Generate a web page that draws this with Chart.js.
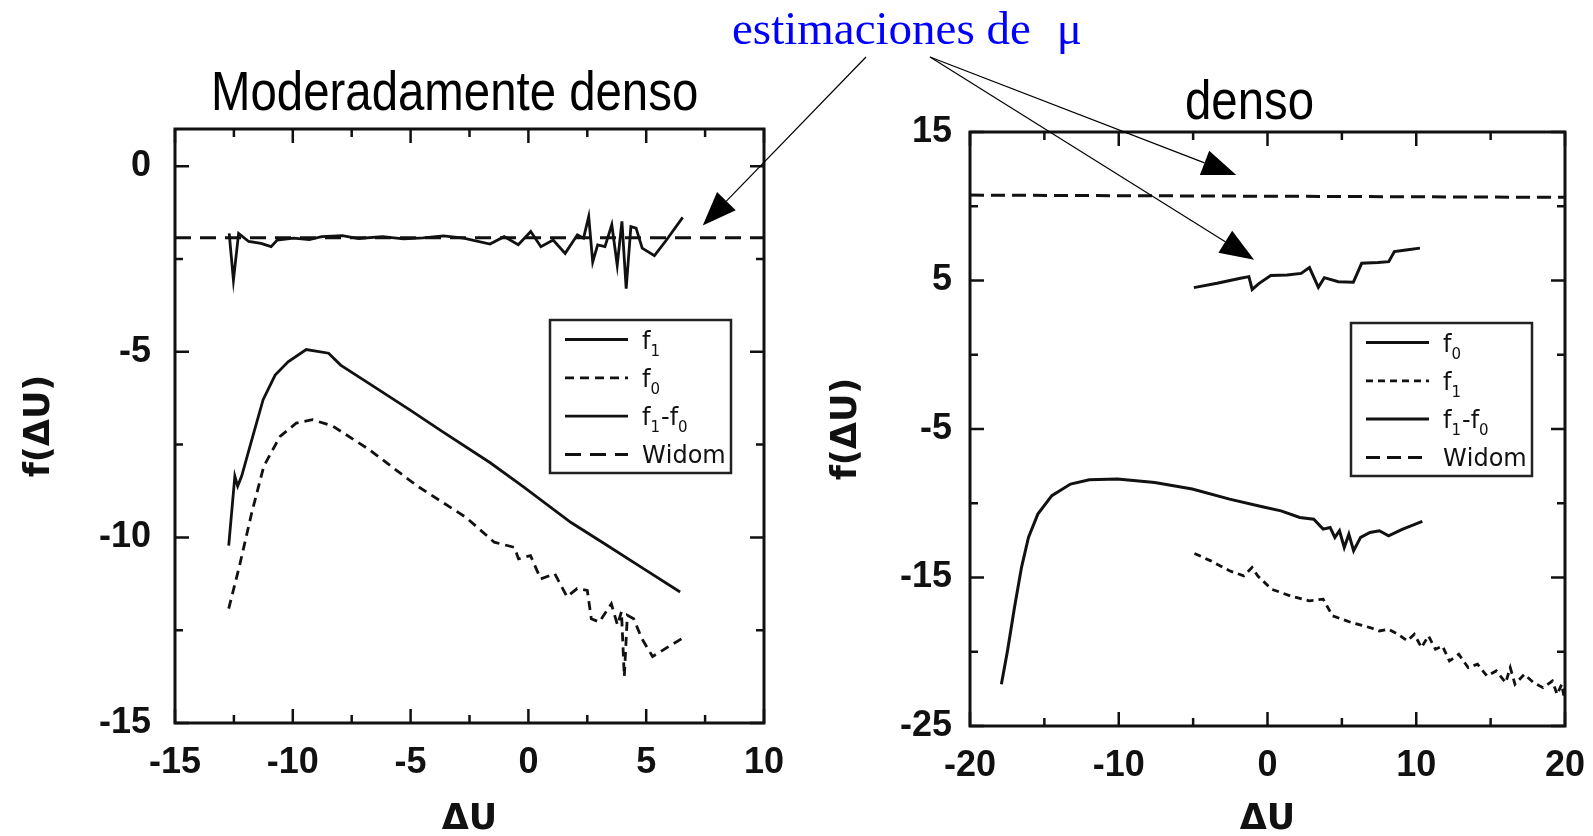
<!DOCTYPE html>
<html>
<head>
<meta charset="utf-8">
<script src="https://cdn.jsdelivr.net/npm/chart.js@4.4.0/dist/chart.umd.min.js"></script>
<style>
  html, body { margin: 0; padding: 0; background: #fff; overflow: hidden; }
  body { width: 1593px; height: 836px; position: relative; }
  canvas { position: absolute; top: 0; }
  #left { left: 0; }
  #right { left: 800px; }
  #arrows { left: 0; pointer-events: none; }
  .ttl { position: absolute; font-family: "Liberation Sans", Arial, sans-serif; font-size: 56px; line-height: 1;
         white-space: nowrap; transform-origin: 0 0; transform: scaleX(0.846); color: #000; }
  #note { position: absolute; left: 732px; top: 5px; font-family: "Liberation Serif", serif; font-size: 47px;
          line-height: 1; color: #0000ff; white-space: nowrap; }
  #note span { margin-left: 14px; }
</style>
</head>
<body>
<canvas id="left" width="800" height="836"></canvas>
<canvas id="right" width="793" height="836"></canvas>
<canvas id="arrows" width="1593" height="836"></canvas>
<div class="ttl" style="left:211px;top:63px">Moderadamente denso</div>
<div class="ttl" style="left:1185px;top:72px">denso</div>
<div id="note">estimaciones de <span>μ</span></div>

<script>
// ---- moderadamente denso ----
const modXTicks = [-15, -10, -5, 0, 5, 10];
const modYTicks = [-15, -10, -5, 0];

const modF1X = [-12.72, -12.46, -12.34, -12.17, -11.78, -11.26, -10.75, -10.2, -9.43, -8.48, -7.97, -6.77, -5.05, -3.68, -1.62, -0.25, 1.81, 3.35, 4.9, 6.44];
const modF1Y = [-10.22, -8.35, -8.62, -8.35, -7.46, -6.29, -5.63, -5.27, -4.94, -5.04, -5.36, -5.85, -6.56, -7.14, -7.99, -8.62, -9.6, -10.22, -10.85, -11.47];

const modF0X = [-12.72, -12.26, -11.74, -11.23, -10.54, -9.85, -9.17, -8.31, -6.77, -4.71, -2.65, -1.45, -0.59, -0.42, 0.09, 0.52, 1.12, 1.64, 2.07, 2.5, 2.67, 3.01, 3.52, 3.78, 3.95, 4.07, 4.2, 4.47, 4.81, 5.27, 5.93, 6.53];
const modF0Y = [-11.92, -10.76, -9.33, -8.08, -7.28, -6.92, -6.83, -7.0, -7.63, -8.62, -9.46, -10.13, -10.27, -10.58, -10.49, -11.12, -10.98, -11.6, -11.38, -11.43, -12.19, -12.28, -11.79, -12.36, -12.0, -13.75, -12.1, -12.19, -12.72, -13.21, -12.95, -12.72];

const modDiffX = [-12.7, -12.52, -12.3, -11.87, -11.35, -10.92, -10.66, -9.97, -9.3, -8.77, -7.9, -7.2, -6.19, -5.3, -4.47, -3.6, -2.75, -1.63, -1.03, -0.43, 0.1, 0.53, 1.05, 1.56, 2.08, 2.34, 2.56, 2.73, 2.94, 3.25, 3.54, 3.77, 3.97, 4.15, 4.35, 4.57, 4.83, 5.35, 5.86, 6.55];
const modDiffY = [-1.81, -3.07, -1.81, -2.03, -2.08, -2.17, -1.99, -1.94, -1.98, -1.9, -1.87, -1.95, -1.9, -1.96, -1.93, -1.88, -1.94, -2.1, -1.9, -2.12, -1.76, -2.17, -1.99, -2.35, -1.85, -1.94, -1.36, -2.58, -2.12, -2.17, -1.58, -2.67, -1.49, -3.3, -1.63, -1.67, -2.21, -2.41, -1.99, -1.38];

const modWidomX = [-15, 10];
const modWidomY = [-1.93, -1.93];

// ---- denso ----
const denXTicks = [-20, -10, 0, 10, 20];
const denYTicks = [-25, -15, -5, 5, 15];

const denF0X = [-17.89, -17.48, -17.01, -16.54, -16.07, -15.44, -14.5, -13.24, -11.98, -10.09, -7.58, -5.06, -2.55, -0.35, 0.91, 2.17, 3.11, 3.74, 4.21, 4.53, 4.84, 5.16, 5.47, 5.79, 6.26, 6.89, 7.52, 8.14, 9.09, 10.41];
const denF0Y = [-22.19, -19.94, -17.02, -14.33, -12.3, -10.73, -9.49, -8.71, -8.42, -8.37, -8.6, -9.04, -9.72, -10.24, -10.51, -10.96, -11.07, -11.74, -11.63, -12.3, -11.85, -12.98, -12.08, -13.2, -12.3, -11.97, -11.85, -12.19, -11.74, -11.22];

const denF1X = [-4.91, -3.81, -2.55, -1.6, -1.04, -0.66, 0.28, 1.54, 2.8, 3.74, 4.37, 5.63, 6.89, 7.52, 8.14, 8.77, 9.4, 9.87, 10.35, 10.82, 11.29, 11.76, 12.23, 12.86, 13.49, 14.12, 14.75, 15.38, 16.01, 16.32, 16.64, 17.26, 17.89, 18.52, 19.15, 19.47, 19.78, 19.94];
const denF1Y = [-13.38, -13.88, -14.55, -14.89, -14.33, -14.89, -15.79, -16.24, -16.57, -16.46, -17.58, -18.03, -18.37, -18.6, -18.48, -18.82, -19.27, -18.82, -19.72, -18.93, -19.83, -19.61, -20.62, -20.17, -21.07, -20.84, -21.63, -21.29, -22.08, -21.07, -22.19, -21.52, -22.08, -22.42, -21.97, -22.87, -22.19, -23.09];

const denDiffX = [-4.95, -3.39, -1.82, -1.25, -1.03, -0.56, 0.22, 1.32, 2.26, 2.82, 3.42, 3.82, 4.76, 5.77, 6.33, 7.43, 8.15, 8.53, 9.31, 10.25];
const denDiffY = [4.52, 4.81, 5.15, 5.26, 4.4, 4.81, 5.33, 5.37, 5.48, 5.87, 4.54, 5.19, 4.92, 4.88, 6.16, 6.21, 6.27, 6.95, 7.06, 7.18];

const denWidomX = [-20, 20];
const denWidomY = [10.75, 10.6];

// arrow targets (data coords) for "estimaciones de mu"
const modArrowTargets = [[7.4, -1.6]];
const denArrowTargets = [[-2.1, 12.1], [-0.9, 6.4]];

const ink = '#111';
const tickFont = { family: 'Liberation Sans', size: 36, weight: 'bold' };
const titleFont = { family: 'DejaVu Sans', size: 35, weight: 'bold', lineHeight: 1 };

function pts(xs, ys) {
    return xs.map((x, i) => ({ x: x, y: ys[i] }));
}

// frame with inward ticks on all four sides
const framePlugin = {
    id: 'frame',
    afterDatasetsDraw(chart, args, opts) {
        const { ctx, chartArea: a, scales: { x, y } } = chart;
        ctx.save();
        ctx.strokeStyle = ink;
        ctx.lineWidth = 3;
        ctx.strokeRect(a.left, a.top, a.right - a.left, a.bottom - a.top);
        ctx.lineWidth = 2.5;
        const mids = v => v.slice(1).map((t, i) => (t + v[i]) / 2);
        const xTick = (val, len) => {
            const px = x.getPixelForValue(val);
            if (px < a.left || px > a.right) return;
            ctx.beginPath();
            ctx.moveTo(px, a.bottom); ctx.lineTo(px, a.bottom - len);
            ctx.moveTo(px, a.top); ctx.lineTo(px, a.top + len);
            ctx.stroke();
        };
        const yTick = (val, len) => {
            const py = y.getPixelForValue(val);
            if (py < a.top || py > a.bottom) return;
            ctx.beginPath();
            ctx.moveTo(a.left, py); ctx.lineTo(a.left + len, py);
            ctx.moveTo(a.right, py); ctx.lineTo(a.right - len, py);
            ctx.stroke();
        };
        opts.xMajor.forEach(v => xTick(v, 14));
        mids(opts.xMajor).forEach(v => xTick(v, 8));
        opts.yMajor.forEach(v => yTick(v, 14));
        mids(opts.yMajor).forEach(v => yTick(v, 8));
        ctx.restore();
    }
};

// boxed legend inside the plot, entries written with subscripts ("f_1")
function drawSubText(ctx, text, x, y) {
    let i = 0;
    while (i < text.length) {
        if (text[i] === '_') {
            ctx.font = '15px "DejaVu Sans"';
            ctx.fillText(text[i + 1], x, y + 7);
            x += ctx.measureText(text[i + 1]).width + 1;
            i += 2;
        } else {
            ctx.font = '24px "DejaVu Sans"';
            ctx.fillText(text[i], x, y);
            x += ctx.measureText(text[i]).width;
            i += 1;
        }
    }
}

const boxLegend = {
    id: 'boxLegend',
    afterDraw(chart, args, opts) {
        const { ctx, chartArea: a } = chart;
        const w = 181, h = 153;
        const bx = a.right - 33 - w, by = a.top + 191;
        ctx.save();
        ctx.fillStyle = '#fff';
        ctx.fillRect(bx, by, w, h);
        ctx.strokeStyle = '#222';
        ctx.lineWidth = 2.5;
        ctx.strokeRect(bx, by, w, h);
        chart.data.datasets.forEach((ds, i) => {
            const ly = by + 19.5 + i * 38.3;
            ctx.strokeStyle = ds.borderColor;
            ctx.lineWidth = ds.borderWidth;
            ctx.setLineDash(ds.borderDash || []);
            ctx.beginPath();
            ctx.moveTo(bx + 15, ly);
            ctx.lineTo(bx + 78, ly);
            ctx.stroke();
            ctx.setLineDash([]);
            ctx.fillStyle = ink;
            ctx.textBaseline = 'alphabetic';
            drawSubText(ctx, ds.label, bx + 92, ly + 9);
        });
        ctx.restore();
    }
};

function makeChart(id, datasets, cfg) {
    const ctx = document.getElementById(id).getContext('2d');
    return new Chart(ctx, {
        type: 'line',
        data: { datasets: datasets },
        options: {
            responsive: false,
            animation: false,
            devicePixelRatio: 1,
            layout: { padding: cfg.padding },
            elements: { point: { radius: 0 }, line: { tension: 0, fill: false } },
            plugins: {
                legend: { display: false },
                tooltip: { enabled: false },
                frame: { xMajor: cfg.xTicks, yMajor: cfg.yTicks }
            },
            scales: {
                x: {
                    type: 'linear', min: cfg.xMin, max: cfg.xMax,
                    afterBuildTicks: s => { s.ticks = cfg.xTicks.map(v => ({ value: v })); },
                    afterFit: s => { s.height = cfg.xHeight; s.paddingLeft = 0; s.paddingRight = 0; },
                    grid: { display: false, drawTicks: false },
                    border: { display: false },
                    ticks: { padding: 18, font: tickFont, color: ink, maxRotation: 0, autoSkip: false, callback: v => String(v) },
                    title: { display: true, text: 'ΔU', font: titleFont, color: ink, padding: { top: 0, bottom: -1 } }
                },
                y: {
                    type: 'linear', min: cfg.yMin, max: cfg.yMax,
                    afterBuildTicks: s => { s.ticks = cfg.yTicks.map(v => ({ value: v })); },
                    afterFit: s => { s.width = cfg.yWidth; s.paddingTop = 0; s.paddingBottom = 0; },
                    grid: { display: false, drawTicks: false },
                    border: { display: false },
                    ticks: { padding: cfg.yPad, font: tickFont, color: ink, autoSkip: false, callback: v => String(v) },
                    title: { display: true, text: 'f(ΔU)', font: titleFont, color: ink, padding: { top: cfg.yTitlePad, bottom: 0 } }
                }
            }
        },
        plugins: [framePlugin, boxLegend]
    });
}

const modChart = makeChart('left', [
    { label: 'f_1', data: pts(modF1X, modF1Y), borderColor: ink, borderWidth: 2.8 },
    { label: 'f_0', data: pts(modF0X, modF0Y), borderColor: ink, borderWidth: 2.8, borderDash: [9, 6] },
    { label: 'f_1-f_0', data: pts(modDiffX, modDiffY), borderColor: ink, borderWidth: 2.8 },
    { label: 'Widom', data: pts(modWidomX, modWidomY), borderColor: ink, borderWidth: 3, borderDash: [16, 9] }
], {
    xMin: -15, xMax: 10, yMin: -15, yMax: 1,
    xTicks: modXTicks, yTicks: modYTicks,
    padding: { top: 129, right: 36, left: 0, bottom: 0 },
    xHeight: 113, yWidth: 175, yPad: 24, yTitlePad: 22
});

const denChart = makeChart('right', [
    { label: 'f_0', data: pts(denF0X, denF0Y), borderColor: ink, borderWidth: 3 },
    { label: 'f_1', data: pts(denF1X, denF1Y), borderColor: ink, borderWidth: 2.8, borderDash: [7, 5] },
    { label: 'f_1-f_0', data: pts(denDiffX, denDiffY), borderColor: ink, borderWidth: 3 },
    { label: 'Widom', data: pts(denWidomX, denWidomY), borderColor: ink, borderWidth: 3, borderDash: [14, 7] }
], {
    xMin: -20, xMax: 20, yMin: -25, yMax: 15,
    xTicks: denXTicks, yTicks: denYTicks,
    padding: { top: 132, right: 28, left: 0, bottom: 0 },
    xHeight: 110, yWidth: 170, yPad: 18, yTitlePad: 29
});

// arrows from the blue note to the mu estimates
function drawArrow(ctx, x0, y0, x1, y1) {
    const ang = Math.atan2(y1 - y0, x1 - x0);
    const len = 34, half = 13;
    const bx = x1 - len * Math.cos(ang), by = y1 - len * Math.sin(ang);
    ctx.beginPath();
    ctx.moveTo(x0, y0);
    ctx.lineTo(bx, by);
    ctx.stroke();
    ctx.beginPath();
    ctx.moveTo(x1, y1);
    ctx.lineTo(bx + half * Math.sin(ang), by - half * Math.cos(ang));
    ctx.lineTo(bx - half * Math.sin(ang), by + half * Math.cos(ang));
    ctx.closePath();
    ctx.fill();
}

const actx = document.getElementById('arrows').getContext('2d');
actx.strokeStyle = '#000';
actx.fillStyle = '#000';
actx.lineWidth = 1.2;
modArrowTargets.forEach(t => {
    drawArrow(actx, 866, 57, modChart.scales.x.getPixelForValue(t[0]), modChart.scales.y.getPixelForValue(t[1]));
});
denArrowTargets.forEach(t => {
    drawArrow(actx, 930, 57, 800 + denChart.scales.x.getPixelForValue(t[0]), denChart.scales.y.getPixelForValue(t[1]));
});
</script>
</body>
</html>
